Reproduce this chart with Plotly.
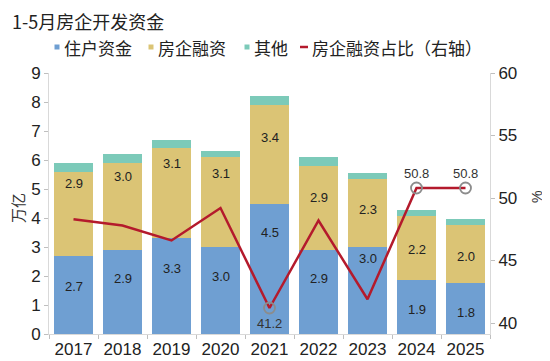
import plotly.graph_objects as go

# ---------------- data ----------------
years = ["2017", "2018", "2019", "2020", "2021", "2022", "2023", "2024", "2025"]
household = [2.7, 2.9, 3.3, 3.0, 4.5, 2.9, 3.0, 1.86, 1.76]      # 住户资金 (万亿)
financing = [2.9, 3.0, 3.1, 3.1, 3.4, 2.9, 2.34, 2.2, 2.0]        # 房企融资 (万亿)
other = [0.3, 0.3, 0.3, 0.2, 0.3, 0.3, 0.2, 0.2, 0.2]             # 其他 (万亿)
fin_share = [48.3, 47.8, 46.6, 49.2, 41.2, 48.2, 41.9, 50.8, 50.8]  # 房企融资占比 (%)
marked_idx = [4, 7, 8]  # points with markers/labels

left_ticks = list(range(0, 10))
right_ticks = [40, 45, 50, 55, 60]

# ---------------- style ----------------
C_BLUE = "#6f9fd2"
C_YEL = "#dbc475"
C_TEAL = "#7ccab9"
C_RED = "#b41a2c"
AX = "#d9d9d9"
TXT = "#222222"
NUM_FONT = "Liberation Sans"
CJK_FONT = "Noto Sans CJK SC"

OFF = 8  # page body margin of the browser
W, H = 550 - OFF, 361 - OFF
PL, PR, PT, PB = 49, 490, 73, 334  # plot area in window pixels
L, R, T, B = PL - OFF, W - (PR - OFF), PT - OFF, H - (PB - OFF)
PW, PH = PR - PL, PB - PT

# label drops (px below the top of each segment), style only
blue_drop = [31, 29, 30, 29, 29, 29, 11, 29, 30]
fin_drop = [12, 14, 15, 16, 33, 32, 30, 33, 32]


def xp(px):
    return (px - PL) / PW


def yp(py):
    return (PB - py) / PH


fig = go.Figure()
fig.add_trace(go.Bar(x=years, y=household, name="住户资金", marker_color=C_BLUE,
                     marker_line_width=0, showlegend=False))
fig.add_trace(go.Bar(x=years, y=financing, name="房企融资", marker_color=C_YEL,
                     marker_line_width=0, showlegend=False))
fig.add_trace(go.Bar(x=years, y=other, name="其他", marker_color=C_TEAL,
                     marker_line_width=0, showlegend=False))
fig.add_trace(go.Scatter(x=years, y=fin_share, name="房企融资占比（右轴）", yaxis="y2",
                         mode="lines", line=dict(color=C_RED, width=2.5), showlegend=False))
fig.add_trace(go.Scatter(x=[years[i] for i in marked_idx], y=[fin_share[i] for i in marked_idx],
                         yaxis="y2", mode="markers", showlegend=False,
                         marker=dict(symbol="circle-open", size=11, color="#8c8c8c",
                                     line=dict(width=1.8, color="#8c8c8c"))))

ann = []
# bar value labels (x given as category index)
for i, yr in enumerate(years):
    ann.append(dict(x=i, y=household[i], xref="x", yref="y", text=f"{household[i]:.1f}",
                    showarrow=False, yshift=-blue_drop[i], yanchor="middle",
                    font=dict(family=NUM_FONT, size=13, color=TXT)))
    ann.append(dict(x=i, y=household[i] + financing[i], xref="x", yref="y",
                    text=f"{financing[i]:.1f}", showarrow=False, yshift=-fin_drop[i],
                    yanchor="middle", font=dict(family=NUM_FONT, size=13, color=TXT)))
# line labels
for i in marked_idx:
    below = fin_share[i] < 45
    ann.append(dict(x=i, y=fin_share[i], xref="x", yref="y2", text=f"{fin_share[i]:.1f}",
                    showarrow=False, yshift=-15 if below else 15, yanchor="middle",
                    font=dict(family=NUM_FONT, size=13, color="#333333")))

# title
ann.append(dict(x=xp(OFF + 2), y=yp(OFF + 13), xref="paper", yref="paper", text="1-5月房企开发资金",
                showarrow=False, xanchor="left", yanchor="middle",
                font=dict(family=CJK_FONT, size=18, color=TXT)))
# axis titles
ann.append(dict(x=xp(18), y=yp(208), xref="paper", yref="paper", text="万亿", textangle=-90,
                showarrow=False, xanchor="center", yanchor="middle",
                font=dict(family=CJK_FONT, size=15, color="#333333")))
ann.append(dict(x=xp(537), y=yp(197), xref="paper", yref="paper", text="%", textangle=-90,
                showarrow=False, xanchor="center", yanchor="middle",
                font=dict(family=NUM_FONT, size=14, color="#333333")))

# custom legend
LEG_Y = 47
legend_items = [("住户资金", C_BLUE, 57, 62), ("房企融资", C_YEL, 151, 156), ("其他", C_TEAL, 247, 252)]
shapes = []
for label, col, sqx, tx in legend_items:
    shapes.append(dict(type="rect", xref="paper", yref="paper",
                       x0=xp(sqx - 2.5), x1=xp(sqx + 2.5), y0=yp(LEG_Y + 2.5), y1=yp(LEG_Y - 2.5),
                       fillcolor=col, line=dict(width=0)))
    ann.append(dict(x=xp(tx), y=yp(LEG_Y), xref="paper", yref="paper", text=label, showarrow=False,
                    xanchor="left", yanchor="middle", font=dict(family=CJK_FONT, size=17, color=TXT)))
shapes.append(dict(type="line", xref="paper", yref="paper", x0=xp(300), x1=xp(308),
                   y0=yp(LEG_Y), y1=yp(LEG_Y), line=dict(color=C_RED, width=2.5)))
ann.append(dict(x=xp(310), y=yp(LEG_Y), xref="paper", yref="paper", text="房企融资占比（右轴）",
                showarrow=False, xanchor="left", yanchor="middle",
                font=dict(family=CJK_FONT, size=17, color=TXT)))

fig.update_layout(
    width=W, height=H,
    margin=dict(l=L, r=R, t=T, b=B, pad=0, autoexpand=False),
    paper_bgcolor="white", plot_bgcolor="white",
    barmode="stack", bargap=0.2,
    showlegend=False,
    xaxis=dict(type="category", range=[-0.5, len(years) - 0.5], showline=True, linecolor=AX,
               linewidth=1, ticks="outside", tickson="boundaries", ticklen=4, tickcolor="#bfbfbf",
               showgrid=False, tickangle=0, automargin=False,
               tickfont=dict(family=NUM_FONT, size=17, color=TXT)),
    yaxis=dict(range=[0, 9], tickvals=left_ticks, showline=True, linecolor=AX, linewidth=1,
               ticks="outside", ticklen=4, tickcolor="#bfbfbf", showgrid=False, zeroline=False,
               automargin=False, tickfont=dict(family=NUM_FONT, size=17, color=TXT)),
    yaxis2=dict(range=[39.12, 60], tickvals=right_ticks, overlaying="y", side="right",
                showline=True, linecolor=AX, linewidth=1, ticks="outside", ticklen=4,
                tickcolor="#bfbfbf", showgrid=False, zeroline=False, automargin=False,
                tickfont=dict(family=NUM_FONT, size=17, color=TXT)),
    annotations=ann,
    shapes=shapes,
)

fig.write_html("out.html")
